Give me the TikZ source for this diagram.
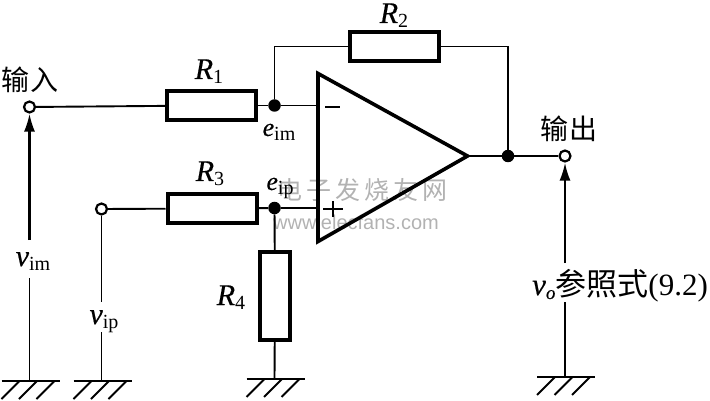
\documentclass[tikz,border=0pt]{standalone}
\usepackage{fontspec}
\setmainfont[ItalicFeatures={FakeBold=0.35}]{Liberation Serif}
\newfontfamily\cjk{Noto Sans CJK SC}
\newfontfamily\cjkwide[LetterSpace=4]{Noto Sans CJK SC}
\newfontfamily\wmcn[LetterSpace=16]{Noto Sans CJK SC}
\newfontfamily\wmfont{Liberation Sans}
\usetikzlibrary{arrows.meta}
\tikzset{
  wire/.style={line width=1.9pt},
  res/.style={draw,line width=4pt,fill=white,inner sep=0pt},
  term/.style={circle,draw,line width=2.2pt,fill=white,minimum size=11pt,inner sep=0pt},
  junc/.style={circle,fill=black,minimum size=12.5pt,inner sep=0pt},
  lbl/.style={inner sep=0pt,anchor=base,font=\fontsize{30}{30}\selectfont\itshape},
  elbl/.style={inner sep=0pt,anchor=base,font=\fontsize{26}{26}\selectfont\itshape},
  cn/.style={inner sep=0pt,font=\fontsize{28}{28}\selectfont\cjkwide},
  wm/.style={inner sep=0pt,text=black!30},
  arr/.style={line width=2.1pt,-{Latex[length=18pt,width=11pt]}},
  gnd/.style={line width=2pt}
}
\newcommand{\sbs}[1]{\raisebox{-4.5pt}{\fontsize{20}{20}\selectfont\upshape #1}}
\begin{document}
\begin{tikzpicture}[x=1pt,y=-1pt]
\useasboundingbox (0,0) rectangle (710,401);
% watermark
\node[wm,font=\fontsize{25}{25}\selectfont\wmcn] (wmcn) at (362,190) {电子发烧友网};
\node[wm,font=\fontsize{20}{20}\selectfont\wmfont] (wmen) at (356,222) {www.elecfans.com};
% opamp
\coordinate (tip) at (467.5,156);
\draw[line width=3.6pt,line join=miter] (318,73.5) -- (tip) -- (318,241.5) -- cycle;
% parts
\node[res,minimum width=89pt,minimum height=29pt] (R1) at (211.5,105.5) {};
\node[res,minimum width=89pt,minimum height=29pt] (R2) at (394,46.5) {};
\node[res,minimum width=89pt,minimum height=29pt] (R3) at (212,208.5) {};
\node[res,minimum width=30pt,minimum height=88pt] (R4) at (275,296) {};
\node[term] (Tin) at (29.5,107) {};
\node[term] (Tip) at (101.5,209) {};
\node[term] (Tout) at (565,156) {};
\node[junc] (J1) at (274.5,105.5) {};
\node[junc] (J2) at (274.5,208) {};
\node[junc] (J3) at (508,156) {};
% labels
\node[lbl] (lR1) at (209,79) {R\sbs{1}};
\node[lbl] (lR2) at (394,23) {R\sbs{2}};
\node[lbl] (lR3) at (210,181) {R\sbs{3}};
\node[lbl] (lR4) at (231,305) {R\sbs{4}};
\node[elbl] (leim) at (279,136) {e\sbs{im}};
\node[elbl] (leip) at (280,190) {e\sbs{ip}};
\node[lbl] (lvim) at (33,266) {v\sbs{im}};
\node[lbl] (lvip) at (104,324) {v\sbs{ip}};
\node[cn] (lin) at (30,80) {输入};
\node[cn] (lout) at (569,129) {输出};
\node[inner sep=0pt,anchor=base,font=\fontsize{31}{31}\selectfont] (lvo) at (620,295) {\textit{v}\raisebox{-4pt}{\fontsize{19}{19}\selectfont\textit{o}}{\cjk 参照式}(9.2)};
% coordinates
\coordinate (gA) at (Tin |- 0,381);
\coordinate (gB) at (Tip |- 0,381);
\coordinate (gC) at (J2 |- 0,379);
\coordinate (gD) at (Tout |- 0,377);
\coordinate (fbL) at (J1 |- R2);
\coordinate (fbR) at (J3 |- R2);
\coordinate (inM) at (318,105.5);
\coordinate (inP) at (318,208);
\coordinate (aT) at (Tin |- 0,240);
\coordinate (aB) at (Tin |- 0,278);
\coordinate (bT) at (Tip |- 0,302);
\coordinate (bB) at (Tip |- 0,332);
\coordinate (cT) at (Tout |- 0,263);
\coordinate (cB) at (Tout |- 0,302);
% wires
\draw[wire] (Tin) -- (R1);
\draw[wire] (R1) -- (J1) -- (inM);
\draw[wire] (J1) -- (fbL) -- (R2);
\draw[wire] (R2) -- (fbR) -- (J3);
\draw[wire] (tip) -- (J3) -- (Tout);
\draw[wire] (Tip) -- (R3);
\draw[wire] (R3) -- (J2) -- (inP);
\draw[wire] (J2) -- (R4);
\draw[wire] (R4) -- (gC);
\draw[wire] (Tip) -- (bT);
\draw[wire] (bB) -- (gB);
\draw[arr] (aT) -- (Tin);
\draw[wire] (aB) -- (gA);
\draw[arr] (cT) -- (Tout);
\draw[wire] (cB) -- (gD);
% plus minus
\draw[line width=1.8pt] (325,107) -- (340,107);
\draw[line width=2pt] (323,209) -- (343,209) (333,201) -- (333,217);
% grounds
\foreach \g in {gA,gB,gC,gD}{
  \draw[gnd] ([xshift=-28pt]\g) -- ([xshift=30pt]\g);
  \foreach \k in {0,1,2}
    \draw[gnd] ([xshift=-10pt+\k*17.5pt]\g) -- ++(-18,18);
}
\end{tikzpicture}
\end{document}
